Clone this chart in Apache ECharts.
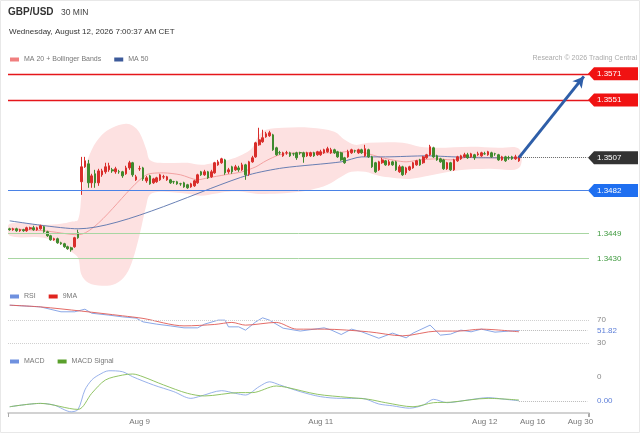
<!DOCTYPE html>
<html><head><meta charset="utf-8">
<script src="https://cdn.jsdelivr.net/npm/echarts@6/dist/echarts.min.js"></script>
<style>html,body{margin:0;padding:0;background:#fff}#c{width:640px;height:433px}</style>
</head><body><div id="c"></div><script>
// ---- candles (open, close, low, high) ----
const openP=[1.34527,1.34520,1.34527,1.34512,1.34520,1.34512,1.34527,1.34535,1.34520,1.34527,
1.34543,1.34504,1.34474,1.34443,1.34451,1.34420,1.34413,1.34390,1.34382,1.34390,
1.34497,1.34886,1.35000,1.35023,1.34878,1.34947,1.34878,1.34939,1.34962,1.34977,
1.34977,1.34962,1.34963,1.34962,1.34947,1.34992,1.35031,1.34901,1.34985,1.34992,
1.34893,1.34931,1.34878,1.34886,1.34901,1.34923,1.34901,1.34901,1.34887,1.34886,
1.34871,1.34878,1.34863,1.34847,1.34855,1.34878,1.34962,1.34939,1.34962,1.34924,
1.34954,1.35015,1.35031,1.35053,1.34962,1.35000,1.34977,1.34992,1.34977,1.35015,
1.34947,1.35038,1.35076,1.35168,1.35191,1.35229,1.35237,1.35244,1.35145,1.35108,
1.35084,1.35107,1.35107,1.35100,1.35107,1.35108,1.35107,1.35084,1.35084,1.35107,
1.35092,1.35092,1.35107,1.35115,1.35107,1.35130,1.35115,1.35107,1.35069,1.35076,
1.35107,1.35123,1.35107,1.35130,1.35084,1.35130,1.35076,1.35031,1.34977,1.35031,
1.35046,1.35015,1.35038,1.35038,1.34962,1.35000,1.34954,1.34977,1.34992,1.35015,
1.35053,1.35031,1.35069,1.35092,1.35145,1.35084,1.35061,1.35053,1.34985,1.35031,
1.34977,1.35046,1.35061,1.35076,1.35092,1.35076,1.35092,1.35092,1.35084,1.35100,
1.35092,1.35107,1.35100,1.35092,1.35053,1.35076,1.35070,1.35076,1.35061,1.35046];
const closeP=[1.34520,1.34527,1.34512,1.34520,1.34512,1.34535,1.34535,1.34520,1.34535,1.34550,
1.34504,1.34474,1.34443,1.34451,1.34420,1.34413,1.34390,1.34375,1.34367,1.34459,
1.34459,1.35000,1.35046,1.34878,1.34931,1.34878,1.34969,1.34969,1.35000,1.35008,
1.34969,1.34985,1.34962,1.34931,1.34992,1.35031,1.34939,1.34924,1.34986,1.34908,
1.34916,1.34870,1.34908,1.34916,1.34939,1.34924,1.34924,1.34878,1.34886,1.34870,
1.34870,1.34847,1.34840,1.34870,1.34893,1.34939,1.34939,1.34962,1.34916,1.34962,
1.35031,1.35038,1.35061,1.34954,1.34977,1.34962,1.35000,1.34977,1.35015,1.34939,
1.35038,1.35069,1.35183,1.35206,1.35222,1.35252,1.35260,1.35130,1.35092,1.35107,
1.35107,1.35108,1.35084,1.35099,1.35069,1.35107,1.35076,1.35107,1.35107,1.35084,
1.35115,1.35115,1.35130,1.35138,1.35130,1.35107,1.35076,1.35053,1.35031,1.35115,
1.35130,1.35122,1.35130,1.35107,1.35138,1.35076,1.35000,1.34962,1.35038,1.35053,
1.35015,1.35038,1.35015,1.34977,1.35000,1.34939,1.34992,1.35000,1.35031,1.35046,
1.35015,1.35076,1.35092,1.35153,1.35076,1.35053,1.35038,1.34985,1.35031,1.34977,
1.35053,1.35076,1.35084,1.35092,1.35069,1.35099,1.35069,1.35099,1.35107,1.35099,
1.35115,1.35076,1.35099,1.35053,1.35076,1.35046,1.35069,1.35061,1.35076,1.35076];
const lowP=[1.34512,1.34512,1.34504,1.34504,1.34504,1.34504,1.34520,1.34512,1.34512,1.34520,
1.34497,1.34466,1.34436,1.34436,1.34413,1.34405,1.34382,1.34367,1.34352,1.34382,
1.34451,1.34786,1.34992,1.34840,1.34840,1.34840,1.34855,1.34924,1.34947,1.34962,
1.34954,1.34947,1.34947,1.34916,1.34939,1.34977,1.34924,1.34893,1.34969,1.34893,
1.34878,1.34863,1.34870,1.34878,1.34893,1.34908,1.34893,1.34870,1.34870,1.34863,
1.34855,1.34840,1.34832,1.34840,1.34847,1.34870,1.34931,1.34931,1.34908,1.34916,
1.34947,1.35008,1.35023,1.34939,1.34947,1.34947,1.34969,1.34962,1.34969,1.34901,
1.34931,1.35031,1.35069,1.35161,1.35183,1.35222,1.35229,1.35122,1.35084,1.35092,
1.35076,1.35092,1.35076,1.35084,1.35053,1.35092,1.35031,1.35076,1.35076,1.35076,
1.35084,1.35084,1.35099,1.35107,1.35099,1.35099,1.35069,1.35046,1.35023,1.35069,
1.35099,1.35107,1.35099,1.35099,1.35076,1.35069,1.34992,1.34954,1.34969,1.35023,
1.35008,1.35008,1.35008,1.34969,1.34954,1.34931,1.34939,1.34969,1.34985,1.35008,
1.35008,1.35023,1.35061,1.35084,1.35069,1.35046,1.35031,1.34977,1.34977,1.34969,
1.34969,1.35038,1.35053,1.35069,1.35061,1.35069,1.35053,1.35084,1.35076,1.35092,
1.35084,1.35069,1.35084,1.35046,1.35046,1.35038,1.35053,1.35053,1.35053,1.35038];
const highP=[1.34535,1.34535,1.34535,1.34527,1.34527,1.34543,1.34543,1.34550,1.34543,1.34558,
1.34550,1.34512,1.34481,1.34459,1.34459,1.34428,1.34420,1.34398,1.34390,1.34466,
1.34520,1.35076,1.35076,1.35053,1.34947,1.34977,1.34985,1.34985,1.35031,1.35031,
1.34992,1.35000,1.34977,1.34969,1.35008,1.35046,1.35038,1.34939,1.35008,1.35000,
1.34931,1.34939,1.34916,1.34924,1.34947,1.34939,1.34931,1.34908,1.34893,1.34893,
1.34878,1.34886,1.34870,1.34878,1.34901,1.34947,1.34969,1.34977,1.34969,1.34977,
1.35038,1.35053,1.35069,1.35061,1.34992,1.35008,1.35015,1.35008,1.35031,1.35023,
1.35046,1.35084,1.35191,1.35298,1.35283,1.35267,1.35275,1.35252,1.35153,1.35122,
1.35115,1.35122,1.35115,1.35107,1.35115,1.35115,1.35115,1.35115,1.35115,1.35115,
1.35122,1.35130,1.35138,1.35153,1.35145,1.35138,1.35122,1.35115,1.35076,1.35130,
1.35138,1.35130,1.35138,1.35138,1.35168,1.35138,1.35084,1.35038,1.35046,1.35069,
1.35053,1.35053,1.35046,1.35046,1.35015,1.35008,1.35000,1.35008,1.35038,1.35053,
1.35061,1.35084,1.35099,1.35168,1.35153,1.35092,1.35069,1.35061,1.35038,1.35038,
1.35061,1.35084,1.35092,1.35107,1.35107,1.35107,1.35099,1.35115,1.35115,1.35115,
1.35122,1.35115,1.35107,1.35099,1.35084,1.35084,1.35084,1.35084,1.35092,1.35084];

// ---- x axis ----
const categoryCount=170;
const dateLabels=['Aug 9','Aug 11','Aug 12','Aug 16','Aug 30'];
const dateLabelIdx=[38,91,139,153,167];

// ---- moving averages & Bollinger bands (index, value) ----
const ma20Idx=[0,10,20,40,45,50,55,58,63,68,72,75,79,84,95,101,104,109,116,120,125,129,135,142,149];
const ma20Val=[1.34527,1.34512,1.34481,1.34939,1.34954,1.34939,1.34901,1.34916,1.34939,1.34962,1.35000,1.35046,1.35092,1.35107,1.35107,1.35122,1.35107,1.35069,1.35038,1.35053,1.35061,1.35053,1.35076,1.35069,1.35069];
const ma50Idx=[0,20,70,80,97,103,110,122,130,138,149];
const ma50Val=[1.34588,1.34527,1.34939,1.34992,1.35038,1.35076,1.35076,1.35084,1.35076,1.35069,1.35069];
const bbUpIdx=[0,10,15,18,20,21,22,24,27,30,34,36,38,40,41,44,52,56,60,64,68,71,73,75,80,88,95,98,101,105,115,120,125,135,143,149];
const bbUpVal=[1.34566,1.34558,1.34566,1.34581,1.34596,1.34786,1.34977,1.35130,1.35244,1.35298,1.35328,1.35313,1.35260,1.35130,1.35053,1.35031,1.35031,1.35015,1.35031,1.35053,1.35092,1.35145,1.35244,1.35283,1.35298,1.35298,1.35267,1.35206,1.35168,1.35183,1.35183,1.35153,1.35145,1.35153,1.35145,1.35138];
const bbLoIdx=[0,10,15,18,20,21,23,27,31,34,36,38,40,41,44,52,56,60,64,68,72,76,82,88,93,97,100,104,108,112,117,121,127,133,140,149];
const bbLoVal=[1.34474,1.34459,1.34405,1.34352,1.34306,1.34176,1.34115,1.34092,1.34108,1.34176,1.34291,1.34481,1.34710,1.34786,1.34809,1.34794,1.34779,1.34794,1.34809,1.34809,1.34794,1.34794,1.34802,1.34824,1.34863,1.34924,1.34962,1.34962,1.34931,1.34916,1.34908,1.34924,1.34954,1.34977,1.34985,1.34992];

// ---- levels ----
const resistance=[1.3571,1.3551];
const lastPrice=1.3507;
const pivot=1.3482;
const support=[1.3449,1.3430];
const targetPrice=1.3569;

// ---- RSI ----
const rsiIdx=[0,9,15,19,22,24,29,33,37,39,43,47,51,55,57,61,63,64,67,69,72,74,76,80,85,92,94,97,100,103,108,112,116,118,123,126,129,132,135,138,142,146,149];
const rsiVal=[96,93,84.5,84.5,89,82,78.7,75.7,73.5,67,63,60,56.6,56.6,63,70,70,58.3,58.3,52.6,67,74,70,56,51,56.6,53,45,54.3,49.7,38.5,47.4,39.2,47.4,61.3,43.9,45.7,52.6,49.7,54.3,49.1,50.9,51.82];
const rsiMaIdx=[0,9,21,33,39,51,60,65,69,78,84,92,105,115,125,131,138,149];
const rsiMaVal=[96,93,85.7,77.5,73,60,62.5,66,61.3,66,54.3,54.3,49.7,42.7,50.9,50.9,54.3,49.7];
const rsiLevels=[70,30];
const rsiLast=51.82;

// ---- MACD (x 1e-4) ----
const macdIdx=[0,9,13,18,20,22,24,26,29,33,36,42,48,53,56,62,66,69,73,76,79,85,91,97,103,108,112,117,121,124,128,134,140,145,149];
const macdVal=[-2.4,-1.0,-1.7,-4.5,-3.5,4.6,8.75,10.8,12.6,12.2,10.1,6.7,3.9,1.1,2.1,4.3,3.2,2.5,6.0,8.0,6.7,3.9,1.8,1.1,1.1,-1.25,-2.0,-3.0,-1.7,0.7,-0.7,0.4,1.4,0.7,0.1];
const signalIdx=[0,9,20,24,28,33,36,39,45,52,57,67,71,78,81,90,99,105,110,118,124,129,140,149];
const signalVal=[-2.4,-1.0,-3.5,3.2,8.75,10.8,11.25,10.1,6.7,3.2,2.1,3.5,3.5,6.25,5.7,2.8,1.5,0.7,-0.7,-2.4,-0.7,-0.5,1.1,0.4];
const macdTopLabel=10, macdTopText='0', macdLastText='0.00';

// ---------------------------------------------------------
const FONT='Liberation Sans, Arial, sans-serif';
const cats=Array.from({length:categoryCount},(_,i)=>String(i));
const candles=openP.map((o,i)=>[o,closeP[i],lowP[i],highP[i]]);
const pairs=(a,b)=>a.map((x,i)=>[x,b[i]]);
const lastIdx=openP.length-1;
const endIdx=categoryCount-1;

const chart=echarts.init(document.getElementById('c'),null,{renderer:'canvas'});
const gridBase={left:8,right:51,containLabel:false};
const xBase=(gi,show)=>({type:'category',gridIndex:gi,data:cats,boundaryGap:true,
  axisLine:{show:show,onZero:false,lineStyle:{color:'#c4c4c4',width:1.5}},
  axisTick:{show:show,interval:(i)=>i===0,length:4,lineStyle:{color:'#aaa'}},
  axisLabel:{show:show,fontSize:8,color:'#777',fontFamily:FONT,margin:5,
    interval:(i)=>dateLabelIdx.indexOf(i)>=0,
    formatter:(v)=>{const k=dateLabelIdx.indexOf(+v);return k>=0?dateLabels[k]:'';}},
  splitLine:{show:false}});

const lvl=(v,color,width,type)=>({yAxis:v,lineStyle:{color:color,width:width,type:type}});

const option={
  animation:false,
  textStyle:{fontFamily:FONT},
  grid:[{...gridBase,top:62,height:228},{...gridBase,top:300,height:46},{...gridBase,top:365,height:48}],
  xAxis:[xBase(0,false),xBase(1,false),xBase(2,true)],
  yAxis:[
    {type:'value',gridIndex:0,min:1.3406,max:1.3580,show:false,splitLine:{show:false}},
    {type:'value',gridIndex:1,min:25,max:105,show:false,splitLine:{show:false}},
    {type:'value',gridIndex:2,min:-5,max:15,show:false,splitLine:{show:false}}
  ],
  legend:[
    {data:[{name:'MA 20 + Bollinger Bands',itemStyle:{color:'#f07f7f'}},{name:'MA 50',itemStyle:{color:'#3d5a9a'}}],
     left:10,top:56,padding:0,icon:'rect',itemWidth:9,itemHeight:4,itemGap:13,selectedMode:false,
     textStyle:{fontSize:7,color:'#777',fontFamily:FONT}},
    {data:[{name:'RSI',itemStyle:{color:'#6f91df'}},{name:'9MA',itemStyle:{color:'#e0241f'}}],
     left:10,top:293,padding:0,icon:'rect',itemWidth:9,itemHeight:4,itemGap:13,selectedMode:false,
     textStyle:{fontSize:7,color:'#777',fontFamily:FONT}},
    {data:[{name:'MACD',itemStyle:{color:'#6f91df'}},{name:'MACD Signal',itemStyle:{color:'#5aa02c'}}],
     left:10,top:358,padding:0,icon:'rect',itemWidth:9,itemHeight:4,itemGap:13,selectedMode:false,
     textStyle:{fontSize:7,color:'#777',fontFamily:FONT}}
  ],
  series:[
    {type:'custom',name:'bb',xAxisIndex:0,yAxisIndex:0,z:1,silent:true,clip:true,
     renderItem:(params,api)=>{
       if(params.dataIndex!==0)return;
       const pts=[];
       for(let k=0;k<bbUpIdx.length;k++)pts.push(api.coord([bbUpIdx[k],bbUpVal[k]]));
       for(let k=bbLoIdx.length-1;k>=0;k--)pts.push(api.coord([bbLoIdx[k],bbLoVal[k]]));
       return {type:'polygon',shape:{points:pts,smooth:0.35},style:{fill:'#fde1e1'}};
     },
     data:[[0,bbUpVal[0]]]},
    {type:'line',name:'MA 20 + Bollinger Bands',xAxisIndex:0,yAxisIndex:0,z:3,data:pairs(ma20Idx,ma20Val),
     showSymbol:false,smooth:0.25,lineStyle:{color:'#f09a9a',width:0.9},itemStyle:{color:'#f07f7f'},
     markLine:{silent:true,symbol:'none',precision:6,label:{show:false},
       data:[
         ...resistance.map(v=>lvl(v,'#e5161b',1.4,'solid')),
         lvl(pivot,'#4a82e6',1,'solid'),
         ...support.map(v=>lvl(v,'#a8d6a2',1,'solid')),
         [{coord:[lastIdx,lastPrice],lineStyle:{color:'#666',width:1,type:'dotted'}},{coord:[endIdx,lastPrice]}]
       ]}},
    {type:'line',name:'MA 50',xAxisIndex:0,yAxisIndex:0,z:3,data:pairs(ma50Idx,ma50Val),
     showSymbol:false,smooth:0.25,lineStyle:{color:'#5873ad',width:0.9},itemStyle:{color:'#3d5a9a'},
     markLine:{silent:true,symbol:['none','arrow'],symbolSize:[9,11],precision:6,label:{show:false},
       lineStyle:{color:'#2e5ea8',width:3,type:'solid'},
       data:[[{coord:[lastIdx,lastPrice]},{coord:[168,targetPrice]}]]}},
    {type:'candlestick',name:'GBP/USD',xAxisIndex:0,yAxisIndex:0,z:4,data:candles,barWidth:'62%',
     itemStyle:{color:'#d92d2a',color0:'#3f8a2e',borderColor:'#d92d2a',borderColor0:'#3f8a2e',borderWidth:1}},
    {type:'line',name:'RSI',xAxisIndex:1,yAxisIndex:1,data:pairs(rsiIdx,rsiVal),showSymbol:false,
     lineStyle:{color:'#7d9de3',width:0.9},itemStyle:{color:'#6f91df'},
     markLine:{silent:true,symbol:'none',precision:4,label:{show:false},
       data:[
         ...rsiLevels.map(v=>lvl(v,'#d0d0d0',1,'dotted')),
         [{coord:[lastIdx,rsiLast],lineStyle:{color:'#bbb',width:1,type:'dotted'}},{coord:[endIdx,rsiLast]}]
       ]}},
    {type:'line',name:'9MA',xAxisIndex:1,yAxisIndex:1,data:pairs(rsiMaIdx,rsiMaVal),showSymbol:false,smooth:0.3,
     lineStyle:{color:'#e05a55',width:0.9},itemStyle:{color:'#e0241f'}},
    {type:'line',name:'MACD',xAxisIndex:2,yAxisIndex:2,data:pairs(macdIdx,macdVal),showSymbol:false,smooth:0.3,
     lineStyle:{color:'#8ca8e8',width:0.9},itemStyle:{color:'#6f91df'},
     markLine:{silent:true,symbol:'none',precision:4,label:{show:false},
       data:[[{coord:[lastIdx,macdVal[macdVal.length-1]],lineStyle:{color:'#bbb',width:1,type:'dotted'}},{coord:[endIdx,macdVal[macdVal.length-1]]}]]}},
    {type:'line',name:'MACD Signal',xAxisIndex:2,yAxisIndex:2,data:pairs(signalIdx,signalVal),showSymbol:false,smooth:0.3,
     lineStyle:{color:'#86bd55',width:0.9},itemStyle:{color:'#5aa02c'}}
  ]
};
chart.setOption(option);

// ---- texts & price tags ----
const py=(v,ai)=>chart.convertToPixel({yAxisIndex:ai},v);
const g=[];
g.push({type:'rect',shape:{x:0.5,y:0.5,width:639,height:432},style:{fill:'none',stroke:'#e8e8e8',lineWidth:1},silent:true});
g.push({type:'line',shape:{x1:588.5,y1:413,x2:588.5,y2:417},style:{stroke:'#aaa',lineWidth:1},silent:true});
g.push({type:'text',left:8,top:7,style:{text:'GBP/USD',font:'bold 10px '+FONT,fill:'#333'}});
g.push({type:'text',left:61,top:8,style:{text:'30 MIN',font:'8.5px '+FONT,fill:'#444'}});
g.push({type:'text',left:9,top:28,style:{text:'Wednesday, August 12, 2026 7:00:37 AM CET',font:'8px '+FONT,fill:'#333'}});
g.push({type:'text',right:3,top:55,style:{text:'Research \u00a9 2026 Trading Central',font:'7px '+FONT,fill:'#aaa'}});
function tag(v,bg){
  const y=py(v,0);
  g.push({type:'polygon',shape:{points:[[588,y],[594,y-6.5],[638,y-6.5],[638,y+6.5],[594,y+6.5]]},style:{fill:bg},silent:true});
  g.push({type:'text',x:597,y:y,style:{text:v.toFixed(4),font:'8px '+FONT,fill:'#fff',textVerticalAlign:'middle'},silent:true});
}
resistance.forEach(v=>tag(v,'#f01212'));
tag(lastPrice,'#333');
tag(pivot,'#1f6ff0');
support.forEach(v=>g.push({type:'text',x:597,y:py(v,0),style:{text:v.toFixed(4),font:'8px '+FONT,fill:'#3f9a3f',textVerticalAlign:'middle'}}));
rsiLevels.forEach(v=>g.push({type:'text',x:597,y:py(v,1),style:{text:String(v),font:'8px '+FONT,fill:'#888',textVerticalAlign:'middle'}}));
g.push({type:'text',x:597,y:py(rsiLast,1),style:{text:rsiLast.toFixed(2),font:'8px '+FONT,fill:'#5d7fd8',textVerticalAlign:'middle'}});
g.push({type:'text',x:597,y:py(macdTopLabel,2),style:{text:macdTopText,font:'8px '+FONT,fill:'#888',textVerticalAlign:'middle'}});
g.push({type:'text',x:597,y:py(0,2),style:{text:macdLastText,font:'8px '+FONT,fill:'#5d7fd8',textVerticalAlign:'middle'}});
chart.setOption({graphic:g});
</script></body></html>
